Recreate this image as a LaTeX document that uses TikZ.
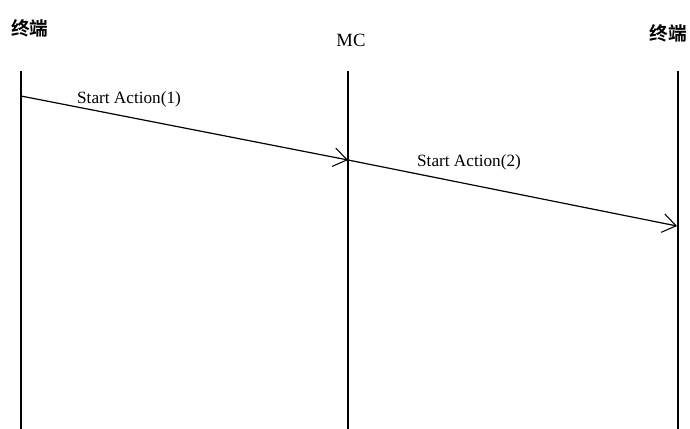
\documentclass[tikz,border=0pt]{standalone}
\usepackage{fontspec}
\setmainfont{Liberation Serif}
\newfontfamily\cjk{Noto Sans CJK SC}[BoldFont={Noto Sans CJK SC Bold}]
\usetikzlibrary{arrows.meta}
\begin{document}
\begin{tikzpicture}[x=0.75pt,y=-0.75pt,
  lifeline/.style={line width=2.2pt},
  msg/.style={line width=0.9pt,-{Straight Barb[length=10pt,width=14pt,line width=0.8pt]}},
  msglabel/.style={font=\fontsize{12.9pt}{15pt}\selectfont,inner sep=0pt},
  head/.style={font=\cjk\bfseries\fontsize{14pt}{16pt}\selectfont,inner sep=0pt},
  mchead/.style={font=\fontsize{14pt}{16pt}\selectfont,inner sep=0pt}]
\useasboundingbox (0,0) rectangle (690,429);
\fill[white] (0,0) rectangle (690,429);
% participant headers
\node[head] (h1) at (30,28) {终端};
\node[mchead] (h2) at (351,40) {MC};
\node[head] (h3) at (668,33) {终端};
% lifelines
\coordinate (l1t) at (21,71);  \coordinate (l1b) at (21,429);
\coordinate (l2t) at (348,71); \coordinate (l2b) at (348,429);
\coordinate (l3t) at (678,71); \coordinate (l3b) at (678,429);
\draw[lifeline] (l1t) -- (l1b);
\draw[lifeline] (l2t) -- (l2b);
\draw[lifeline] (l3t) -- (l3b);
% message endpoints
\coordinate (m1s) at (21,96);
\coordinate (m1e) at (348,160);
\coordinate (m2e) at (677,226);
\draw[msg] (m1s) -- (m1e);
\draw[msg] (m1e) -- (m2e);
\node[msglabel] (t1) at (129,99) {Start Action(1)};
\node[msglabel] (t2) at (469,162) {Start Action(2)};
\end{tikzpicture}
\end{document}
